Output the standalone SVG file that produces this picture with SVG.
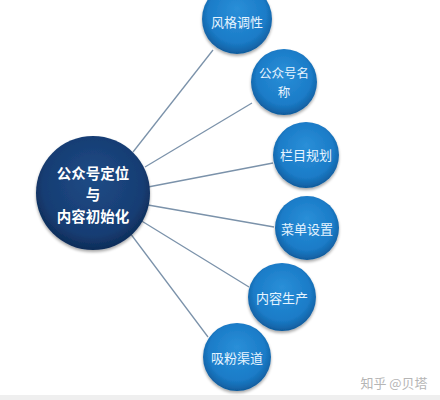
<svg xmlns="http://www.w3.org/2000/svg" width="440" height="400" viewBox="0 0 440 400">
<defs>
<radialGradient id="gBlue" cx="50%" cy="45%" r="55%" fx="50%" fy="35%">
<stop offset="0" stop-color="#2a8fd8"/>
<stop offset="0.75" stop-color="#1b7cc8"/>
<stop offset="0.92" stop-color="#1568ad"/>
<stop offset="1" stop-color="#0f5a9a"/>
</radialGradient>
<radialGradient id="gNavy" cx="50%" cy="45%" r="55%" fx="50%" fy="35%">
<stop offset="0" stop-color="#1f4b86"/>
<stop offset="0.8" stop-color="#163d73"/>
<stop offset="1" stop-color="#0e2c58"/>
</radialGradient>
<filter id="sh" x="-20%" y="-20%" width="140%" height="140%">
<feGaussianBlur in="SourceAlpha" stdDeviation="1.5"/>
<feOffset dx="0" dy="1.5"/>
<feComponentTransfer><feFuncA type="linear" slope="0.35"/></feComponentTransfer>
<feMerge><feMergeNode/><feMergeNode in="SourceGraphic"/></feMerge>
</filter>
</defs>
<style>
.conn line{stroke:#7b92aa;stroke-width:1.3}
.bub{fill:url(#gBlue);filter:url(#sh)}
.bt{font-family:"Noto Sans CJK SC","Noto Sans",sans-serif;font-size:13px;fill:#e6f4ff;text-anchor:middle;dominant-baseline:central}
.ct{font-family:"Noto Sans CJK SC","Noto Sans",sans-serif;font-size:14.5px;font-weight:bold;fill:#ffffff;text-anchor:middle;dominant-baseline:central}
</style>
<rect width="440" height="400" fill="#ffffff"/>
<rect y="395" width="440" height="5" fill="#efefef"/>
<g id="connectors" class="conn">
<line x1="133" y1="152" x2="213" y2="50"/>
<line x1="145" y1="167" x2="252" y2="103"/>
<line x1="148" y1="187" x2="273" y2="163"/>
<line x1="148" y1="205" x2="274" y2="227"/>
<line x1="140" y1="220" x2="249" y2="287"/>
<line x1="130" y1="233" x2="208" y2="337"/>
</g>
<g id="center">
<circle cx="93" cy="193" r="57" fill="url(#gNavy)" filter="url(#sh)"/>
<text class="ct" x="93" y="172">公众号定位</text>
<text class="ct" x="93" y="193.5">与</text>
<text class="ct" x="93" y="215">内容初始化</text>
</g>
<g id="n1"><circle class="bub" cx="237" cy="19" r="35"/><text class="bt" x="237" y="21">风格调性</text></g>
<g id="n2"><circle class="bub" cx="284" cy="82" r="33"/><text class="bt" x="284" y="72.5" style="font-size:12.5px">公众号名</text><text class="bt" x="284" y="91.5" style="font-size:12.5px">称</text></g>
<g id="n3"><circle class="bub" cx="306" cy="155" r="33"/><text class="bt" x="306" y="154">栏目规划</text></g>
<g id="n4"><circle class="bub" cx="307" cy="228" r="32"/><text class="bt" x="307" y="228">菜单设置</text></g>
<g id="n5"><circle class="bub" cx="282" cy="297" r="34"/><text class="bt" x="282" y="297">内容生产</text></g>
<g id="n6"><circle class="bub" cx="237" cy="357" r="34"/><text class="bt" x="237" y="357">吸粉渠道</text></g>
<text x="394" y="382" font-family="&quot;Noto Sans CJK SC&quot;,&quot;Noto Sans&quot;,sans-serif" font-size="13" fill="#b5b5b5" text-anchor="middle" dominant-baseline="central">知乎 @贝塔</text>
</svg>
